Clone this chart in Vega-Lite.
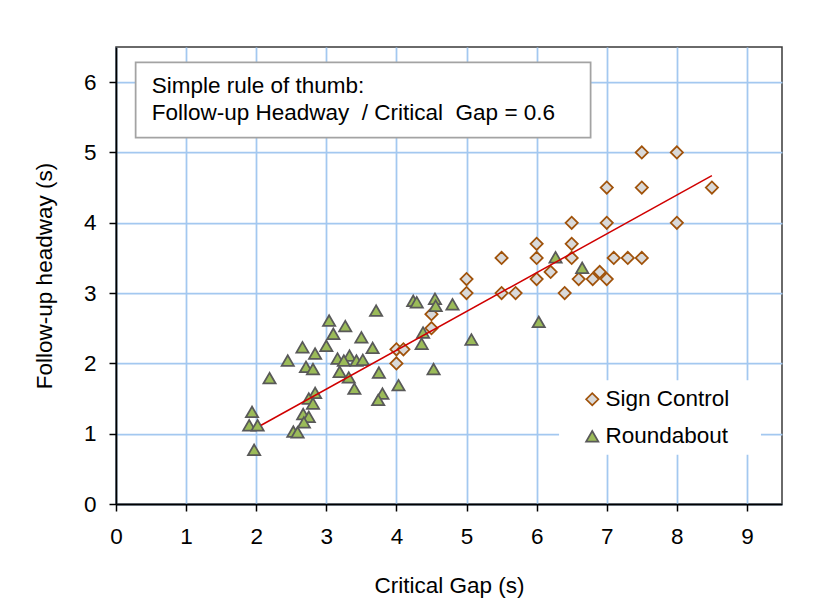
{
  "$schema": "https://vega.github.io/schema/vega-lite/v6.json",
  "width": 666,
  "height": 457,
  "autosize": {"type": "none"},
  "padding": {"left": 116, "top": 47, "right": 31, "bottom": 108},
  "background": "white",
  "config": {
    "font": "Liberation Sans",
    "view": {"stroke": "#3a3a3a", "strokeWidth": 1.5},
    "axis": {
      "labelFont": "Liberation Sans",
      "labelFontSize": 22.5,
      "labelColor": "black",
      "titleFont": "Liberation Sans",
      "titleFontSize": 22.5,
      "titleFontWeight": "normal",
      "titleColor": "black",
      "domainColor": "black",
      "domainWidth": 1.75,
      "tickColor": "black",
      "tickWidth": 1.5,
      "tickSize": 7,
      "gridColor": "#a3c8f0",
      "gridWidth": 1.75,
      "gridOpacity": 1,
      "labelFlush": false,
      "labelOverlap": false,
      "format": "d"
    },
    "legend": {
      "labelFont": "Liberation Sans",
      "labelFontSize": 22.5,
      "labelColor": "black",
      "labelOffset": 2,
      "labelLimit": 400,
      "rowPadding": 14,
      "padding": 0,
      "symbolSize": 150,
      "symbolStrokeWidth": 1.75
    }
  },
  "datasets": {
    "points": [
      {"series": "Sign Control", "gap": 7.5, "headway": 5.0},
      {"series": "Sign Control", "gap": 8.0, "headway": 5.0},
      {"series": "Sign Control", "gap": 7.0, "headway": 4.5},
      {"series": "Sign Control", "gap": 7.5, "headway": 4.5},
      {"series": "Sign Control", "gap": 8.5, "headway": 4.5},
      {"series": "Sign Control", "gap": 6.5, "headway": 4.0},
      {"series": "Sign Control", "gap": 7.0, "headway": 4.0},
      {"series": "Sign Control", "gap": 8.0, "headway": 4.0},
      {"series": "Sign Control", "gap": 6.0, "headway": 3.7},
      {"series": "Sign Control", "gap": 6.5, "headway": 3.7},
      {"series": "Sign Control", "gap": 5.5, "headway": 3.5},
      {"series": "Sign Control", "gap": 6.0, "headway": 3.5},
      {"series": "Sign Control", "gap": 6.5, "headway": 3.5},
      {"series": "Sign Control", "gap": 7.1, "headway": 3.5},
      {"series": "Sign Control", "gap": 7.3, "headway": 3.5},
      {"series": "Sign Control", "gap": 7.5, "headway": 3.5},
      {"series": "Sign Control", "gap": 5.0, "headway": 3.2},
      {"series": "Sign Control", "gap": 6.0, "headway": 3.2},
      {"series": "Sign Control", "gap": 6.2, "headway": 3.3},
      {"series": "Sign Control", "gap": 6.6, "headway": 3.2},
      {"series": "Sign Control", "gap": 6.8, "headway": 3.2},
      {"series": "Sign Control", "gap": 6.9, "headway": 3.3},
      {"series": "Sign Control", "gap": 7.0, "headway": 3.2},
      {"series": "Sign Control", "gap": 5.0, "headway": 3.0},
      {"series": "Sign Control", "gap": 5.5, "headway": 3.0},
      {"series": "Sign Control", "gap": 5.7, "headway": 3.0},
      {"series": "Sign Control", "gap": 6.4, "headway": 3.0},
      {"series": "Sign Control", "gap": 4.5, "headway": 2.7},
      {"series": "Sign Control", "gap": 4.5, "headway": 2.5},
      {"series": "Sign Control", "gap": 4.0, "headway": 2.2},
      {"series": "Sign Control", "gap": 4.1, "headway": 2.2},
      {"series": "Sign Control", "gap": 4.0, "headway": 2.0},
      {"series": "Roundabout", "gap": 3.71, "headway": 2.75},
      {"series": "Roundabout", "gap": 3.04, "headway": 2.61},
      {"series": "Roundabout", "gap": 3.27, "headway": 2.53},
      {"series": "Roundabout", "gap": 3.10, "headway": 2.42},
      {"series": "Roundabout", "gap": 3.50, "headway": 2.37},
      {"series": "Roundabout", "gap": 2.66, "headway": 2.23},
      {"series": "Roundabout", "gap": 3.00, "headway": 2.25},
      {"series": "Roundabout", "gap": 2.84, "headway": 2.14},
      {"series": "Roundabout", "gap": 3.66, "headway": 2.22},
      {"series": "Roundabout", "gap": 2.45, "headway": 2.04},
      {"series": "Roundabout", "gap": 3.16, "headway": 2.07},
      {"series": "Roundabout", "gap": 3.33, "headway": 2.11},
      {"series": "Roundabout", "gap": 3.25, "headway": 2.04},
      {"series": "Roundabout", "gap": 3.43, "headway": 2.04},
      {"series": "Roundabout", "gap": 3.52, "headway": 2.05},
      {"series": "Roundabout", "gap": 2.71, "headway": 1.95},
      {"series": "Roundabout", "gap": 2.81, "headway": 1.92},
      {"series": "Roundabout", "gap": 3.19, "headway": 1.88},
      {"series": "Roundabout", "gap": 3.32, "headway": 1.80},
      {"series": "Roundabout", "gap": 3.75, "headway": 1.87},
      {"series": "Roundabout", "gap": 2.19, "headway": 1.79},
      {"series": "Roundabout", "gap": 3.40, "headway": 1.64},
      {"series": "Roundabout", "gap": 4.03, "headway": 1.69},
      {"series": "Roundabout", "gap": 3.80, "headway": 1.57},
      {"series": "Roundabout", "gap": 3.74, "headway": 1.48},
      {"series": "Roundabout", "gap": 2.84, "headway": 1.58},
      {"series": "Roundabout", "gap": 2.75, "headway": 1.50},
      {"series": "Roundabout", "gap": 2.81, "headway": 1.43},
      {"series": "Roundabout", "gap": 2.67, "headway": 1.28},
      {"series": "Roundabout", "gap": 2.75, "headway": 1.24},
      {"series": "Roundabout", "gap": 2.68, "headway": 1.16},
      {"series": "Roundabout", "gap": 1.94, "headway": 1.31},
      {"series": "Roundabout", "gap": 1.90, "headway": 1.12},
      {"series": "Roundabout", "gap": 2.02, "headway": 1.12},
      {"series": "Roundabout", "gap": 2.53, "headway": 1.03},
      {"series": "Roundabout", "gap": 2.59, "headway": 1.02},
      {"series": "Roundabout", "gap": 1.97, "headway": 0.77},
      {"series": "Roundabout", "gap": 4.24, "headway": 2.89},
      {"series": "Roundabout", "gap": 4.29, "headway": 2.87},
      {"series": "Roundabout", "gap": 4.55, "headway": 2.92},
      {"series": "Roundabout", "gap": 4.56, "headway": 2.82},
      {"series": "Roundabout", "gap": 4.80, "headway": 2.84},
      {"series": "Roundabout", "gap": 4.38, "headway": 2.44},
      {"series": "Roundabout", "gap": 4.36, "headway": 2.28},
      {"series": "Roundabout", "gap": 4.53, "headway": 1.92},
      {"series": "Roundabout", "gap": 5.07, "headway": 2.34},
      {"series": "Roundabout", "gap": 6.03, "headway": 2.59},
      {"series": "Roundabout", "gap": 6.27, "headway": 3.51},
      {"series": "Roundabout", "gap": 6.65, "headway": 3.36}
    ],
    "trend": [
      {"gap": 2.07, "headway": 1.12},
      {"gap": 8.5, "headway": 4.67}
    ],
    "one": [{}]
  },
  "layer": [
    {
      "data": {"name": "one"},
      "mark": {"type": "rect", "fill": "white", "stroke": "#a3a3a3", "strokeWidth": 1.75},
      "encoding": {
        "x": {"datum": 0.28, "type": "quantitative", "scale": {"domain": [0, 9.5], "nice": false, "zero": false},
          "axis": {"title": "Critical Gap (s)", "values": [0, 1, 2, 3, 4, 5, 6, 7, 8, 9], "labelPadding": 14, "titlePadding": 27, "grid": true}},
        "x2": {"datum": 6.77},
        "y": {"datum": 6.28, "type": "quantitative", "scale": {"domain": [0, 6.5], "nice": false, "zero": false},
          "axis": {"title": "Follow-up headway (s)", "values": [0, 1, 2, 3, 4, 5, 6], "labelPadding": 13, "titlePadding": 27, "grid": true}},
        "y2": {"datum": 5.21}
      }
    },
    {
      "data": {"name": "one"},
      "mark": {"type": "text", "align": "left", "baseline": "alphabetic", "fontSize": 22.5, "font": "Liberation Sans", "color": "black", "lineHeight": 27.4,
        "text": ["Simple rule of thumb:", "Follow-up Headway\u00a0 / Critical\u00a0 Gap = 0.6"]},
      "encoding": {
        "x": {"datum": 0.51, "type": "quantitative"},
        "y": {"datum": 5.85, "type": "quantitative"}
      }
    },
    {
      "data": {"name": "one"},
      "mark": {"type": "rect", "fill": "white", "strokeWidth": 0},
      "encoding": {
        "x": {"datum": 6.32, "type": "quantitative"},
        "x2": {"datum": 9.2},
        "y": {"datum": 1.76, "type": "quantitative"},
        "y2": {"datum": 0.7}
      }
    },
    {
      "data": {"name": "points"},
      "mark": {"type": "point", "filled": true, "size": 150, "strokeWidth": 1.75, "opacity": 1},
      "encoding": {
        "x": {"field": "gap", "type": "quantitative"},
        "y": {"field": "headway", "type": "quantitative"},
        "shape": {"field": "series", "type": "nominal", "title": null,
          "scale": {"domain": ["Sign Control", "Roundabout"], "range": ["diamond", "triangle-up"]},
          "legend": {"orient": "none", "legendX": 465, "legendY": 341}},
        "fill": {"field": "series", "type": "nominal", "title": null,
          "scale": {"domain": ["Sign Control", "Roundabout"], "range": ["#d9d9d9", "#9bbb59"]}},
        "stroke": {"field": "series", "type": "nominal", "title": null,
          "scale": {"domain": ["Sign Control", "Roundabout"], "range": ["#a0520a", "#595959"]}}
      }
    },
    {
      "data": {"name": "trend"},
      "mark": {"type": "line", "color": "#d00000", "strokeWidth": 1.5},
      "encoding": {
        "x": {"field": "gap", "type": "quantitative"},
        "y": {"field": "headway", "type": "quantitative"}
      }
    }
  ]
}
